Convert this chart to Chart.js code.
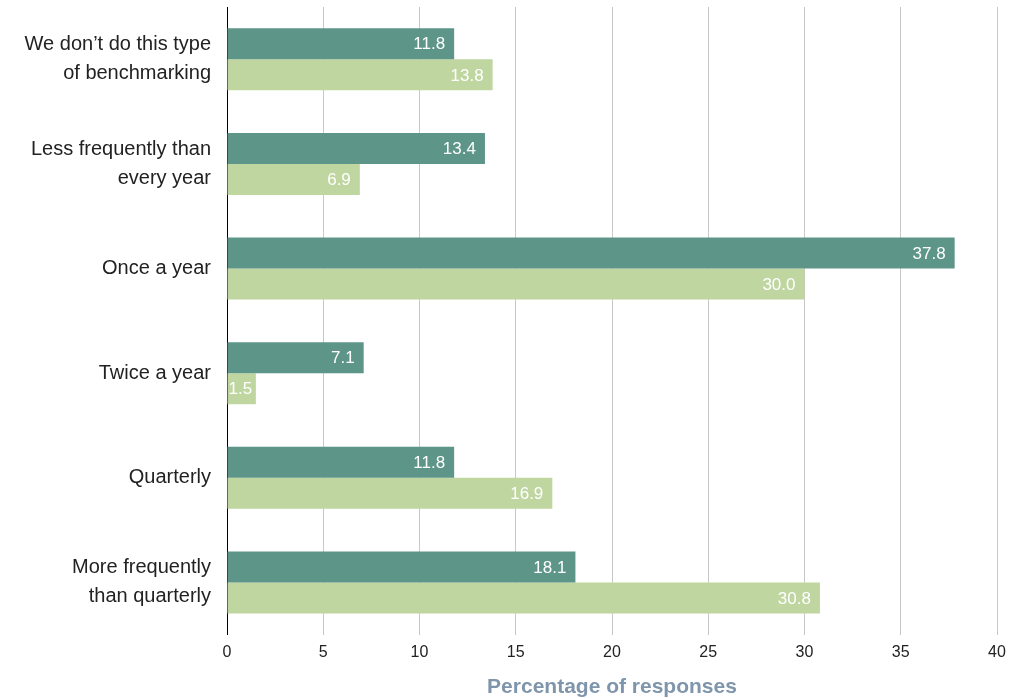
<!DOCTYPE html>
<html>
<head>
<meta charset="utf-8">
<script src="https://cdn.jsdelivr.net/npm/chart.js@4"></script>
<style>
  html, body { margin: 0; padding: 0; background: #fff; }
  #wrap { width: 1011px; height: 698px; }
</style>
</head>
<body>
<div id="wrap"><canvas id="chart"></canvas></div>
<script>
var categories = [
    ["We don\u2019t do this type", "of benchmarking"],
    ["Less frequently than", "every year"],
    ["Once a year"],
    ["Twice a year"],
    ["Quarterly"],
    ["More frequently", "than quarterly"]
];
var seriesA = [11.8, 13.4, 37.8, 7.1, 11.8, 18.1];
var seriesB = [13.8, 6.9, 30.0, 1.5, 16.9, 30.8];
var xTicks = [0, 5, 10, 15, 20, 25, 30, 35, 40];
var axisTitle = "Percentage of responses";

// draws the value at the end of each bar, inside it
var barLabels = {
    id: 'barLabels',
    afterDatasetsDraw: function(chart) {
        var ctx = chart.ctx;
        ctx.save();
        ctx.font = '17px "Liberation Sans", Arial, sans-serif';
        ctx.fillStyle = '#ffffff';
        ctx.textBaseline = 'middle';
        ctx.textAlign = 'right';
        chart.data.datasets.forEach(function(ds, i) {
            var meta = chart.getDatasetMeta(i);
            meta.data.forEach(function(bar, j) {
                var txt = ds.data[j].toFixed(1);
                var w = ctx.measureText(txt).width;
                var x = Math.max(bar.x - 9, bar.base + w + 1);
                ctx.fillText(txt, x, bar.y + 1);
            });
        });
        ctx.restore();
    }
};

var ctx = document.getElementById("chart");
new Chart(ctx, {
    type: 'bar',
    data: {
        labels: categories,
        datasets: [{
            data: seriesA,
            backgroundColor: '#5e9589',
            categoryPercentage: 0.593,
            barPercentage: 1.0
        }, {
            data: seriesB,
            backgroundColor: '#bfd6a0',
            categoryPercentage: 0.593,
            barPercentage: 1.0
        }]
    },
    options: {
        indexAxis: 'y',
        responsive: true,
        maintainAspectRatio: false,
        animation: false,
        layout: { padding: { top: 7, right: 14, bottom: 0, left: 0 } },
        plugins: {
            legend: { display: false },
            tooltip: { enabled: false }
        },
        scales: {
            x: {
                min: 0,
                max: 40,
                afterBuildTicks: function(axis) {
                    axis.ticks = xTicks.map(function(v) { return { value: v }; });
                },
                afterFit: function(axis) {
                    axis.paddingRight = 0;
                },
                grid: { color: '#c8c8c8', lineWidth: 1, drawTicks: false },
                border: { display: false },
                ticks: {
                    padding: 8,
                    color: '#222',
                    font: { family: '"Liberation Sans", Arial, sans-serif', size: 16 }
                },
                title: {
                    display: true,
                    text: axisTitle,
                    color: '#7f95ab',
                    padding: { top: 7, bottom: 0 },
                    font: { family: '"Liberation Sans", Arial, sans-serif', size: 21, weight: 'bold', lineHeight: 1.0 }
                }
            },
            y: {
                grid: { display: false, drawTicks: false },
                border: { display: true, color: '#000', width: 1 },
                afterFit: function(axis) {
                    axis.width = 227;
                    axis.paddingTop = 0;
                    axis.paddingBottom = 0;
                },
                ticks: {
                    padding: 16,
                    color: '#222',
                    font: { family: '"Liberation Sans", Arial, sans-serif', size: 20, lineHeight: 1.45 }
                }
            }
        }
    },
    plugins: [barLabels]
});
</script>
</body>
</html>
